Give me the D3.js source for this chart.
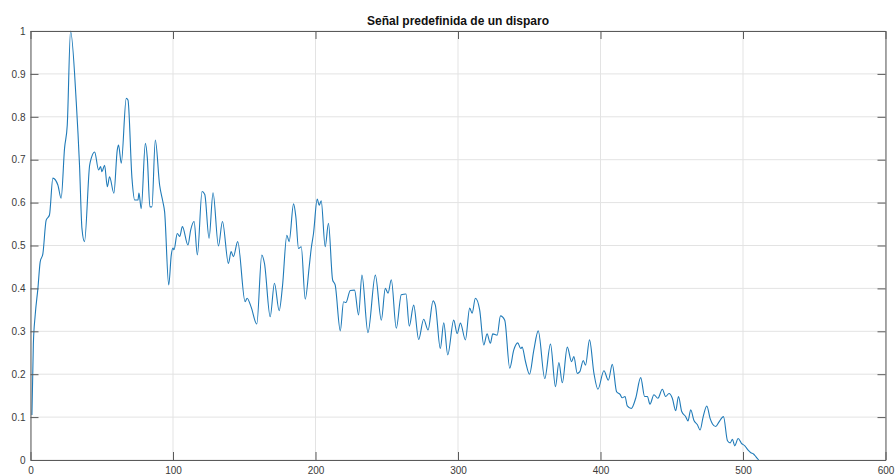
<!DOCTYPE html>
<html>
<head>
<meta charset="utf-8">
<script src="https://cdn.jsdelivr.net/npm/d3@7"></script>
<style>
  html, body { margin: 0; padding: 0; background: #fff; }
  svg { display: block; font-family: "Liberation Sans", Arial, Helvetica, sans-serif; }
</style>
</head>
<body>
<svg id="chart" width="896" height="476"></svg>
<script>
const title = "Señal predefinida de un disparo";
const xTicks = [0, 100, 200, 300, 400, 500, 600];
const xTickLabels = ["0", "100", "200", "300", "400", "500", "600"];
const yTicks = [0, 0.1, 0.2, 0.3, 0.4, 0.5, 0.6, 0.7, 0.8, 0.9, 1];
const yTickLabels = ["0", "0.1", "0.2", "0.3", "0.4", "0.5", "0.6", "0.7", "0.8", "0.9", "1"];

const sampleX = [
  1, 2, 3.3, 5.2, 6.8, 8.7, 11, 13.3, 15.7, 19.2, 21.5, 23.9, 25.8, 28.1, 32.1, 34.4, 36.1, 37.9,
  41.5, 42.6, 45, 47.8, 49.2, 50.1, 52, 53.9, 55.5, 58.5, 60.9, 61.8, 63.7, 67.2, 68.4, 71.2, 73.1,
  75.4, 76.1, 77.7, 80.6, 82, 83.8, 85.2, 87.6, 90.6, 92.9, 94.1, 97, 98.8, 100, 100.7, 103, 104.7,
  106.6, 110.5, 112.4, 114.8, 117.1, 120.4, 122.3, 125.3, 128.1, 131.9, 134.7, 138.9, 140.8, 142.4,
  145.4, 150.6, 152, 154.8, 158.8, 162.3, 164.2, 168.2, 171.2, 174.5, 176.8, 179.9, 181.5, 184.6,
  186.2, 188.1, 190, 192.8, 195.6, 197, 198.6, 201.2, 202.6, 204, 206.8, 209.1, 212, 213.8, 217.4,
  219.7, 221.3, 224.4, 227.4, 230.2, 232.6, 236.8, 242, 246.2, 249, 250.9, 253.2, 256.7, 260.2,
  263.5, 265.8, 268.9, 272.4, 275.9, 279, 282.5, 284.1, 287.6, 290, 292.8, 297, 299.4, 301.7, 305.2,
  308.2, 309.9, 312.2, 315.2, 318.1, 320.4, 322.7, 324.4, 327.5, 329.8, 332.8, 336.3, 339.1, 341.9,
  344, 345, 347.4, 350.2, 353.2, 356.3, 360.9, 364.9, 368.4, 370.8, 373.2, 376.7, 379.7, 381.3,
  383.7, 385.5, 387.9, 389.5, 392.3, 395.4, 398.2, 402.4, 405.5, 408.3, 411.3, 413.7, 415.3, 417.2,
  418.8, 421.6, 424.7, 428.2, 431, 432.9, 434.7, 437.5, 440.3, 443.4, 445.7, 448.1, 450.4, 452.8,
  454.7, 457, 459.8, 461.4, 463.3, 465.6, 468, 469.9, 472, 474.6, 476.9, 478.6, 480.9, 483.2, 486.3,
  489.1, 491, 492.6, 494.2, 496.6, 498.9, 501.3, 503.6, 505.5, 507.4, 509, 511
];
const sampleY = [
  0.105, 0.27, 0.338, 0.40, 0.462, 0.481, 0.559, 0.571, 0.657, 0.641, 0.61, 0.727, 0.781, 1.0, 0.835, 0.687, 0.54, 0.509,
  0.687, 0.703, 0.718, 0.676, 0.684, 0.672, 0.687, 0.637, 0.660, 0.622, 0.723, 0.734, 0.692, 0.843, 0.839, 0.657, 0.606,
  0.606, 0.622, 0.586, 0.738, 0.703, 0.590, 0.590, 0.746, 0.641, 0.602, 0.579, 0.408, 0.478, 0.494, 0.49, 0.528, 0.521,
  0.544, 0.501, 0.536, 0.556, 0.478, 0.626, 0.619, 0.517, 0.623, 0.499, 0.556, 0.458, 0.486, 0.474,
  0.509, 0.369, 0.377, 0.357, 0.317, 0.478, 0.458, 0.334, 0.412, 0.348, 0.404, 0.524, 0.509, 0.597,
  0.567, 0.493, 0.497, 0.375, 0.451, 0.493, 0.528, 0.608, 0.594, 0.604, 0.497, 0.552, 0.42, 0.408, 0.301,
  0.369, 0.367, 0.395, 0.396, 0.338, 0.431, 0.297, 0.431, 0.326, 0.40, 0.389, 0.42, 0.307, 0.385,
  0.387, 0.312, 0.361, 0.281, 0.328, 0.303, 0.371, 0.361, 0.26, 0.32, 0.245, 0.326, 0.295, 0.319, 0.28,
  0.354, 0.342, 0.377, 0.35, 0.268, 0.294, 0.272, 0.294, 0.291, 0.336, 0.326, 0.214, 0.256, 0.273,
  0.26, 0.263, 0.229, 0.20, 0.256, 0.301, 0.19, 0.27, 0.171, 0.227, 0.18, 0.263, 0.229, 0.241,
  0.202, 0.206, 0.232, 0.221, 0.28, 0.202, 0.165, 0.208, 0.186, 0.223, 0.159, 0.153, 0.145, 0.148,
  0.126, 0.12, 0.144, 0.192, 0.148, 0.148, 0.13, 0.152, 0.144, 0.165, 0.148, 0.155, 0.144, 0.115,
  0.148, 0.113, 0.101, 0.091, 0.117, 0.092, 0.082, 0.07, 0.10, 0.126, 0.097, 0.084, 0.078, 0.089, 0.101,
  0.045, 0.04, 0.048, 0.033, 0.05, 0.039, 0.033, 0.023, 0.017, 0.014, 0.008, 0.0
];

const svg = d3.select("#chart");
const W = 896, H = 476;
const plot = { left: 30.5, right: 885.5, top: 31, bottom: 460 };

const x = d3.scaleLinear().domain([0, 600]).range([plot.left, plot.right]);
const y = d3.scaleLinear().domain([0, 1]).range([plot.bottom, plot.top]);

svg.append("rect").attr("width", W).attr("height", H).attr("fill", "#fff");

// grid
const grid = svg.append("g").attr("class", "grid");
grid.selectAll("line.gx").data(xTicks).join("line")
  .attr("x1", d => x(d)).attr("x2", d => x(d))
  .attr("y1", plot.top).attr("y2", plot.bottom)
  .attr("stroke", "#e3e3e3").attr("stroke-width", 1);
grid.selectAll("line.gy").data(yTicks).join("line")
  .attr("x1", plot.left).attr("x2", plot.right)
  .attr("y1", d => y(d)).attr("y2", d => y(d))
  .attr("stroke", "#e3e3e3").attr("stroke-width", 1);

// line
const pts = sampleX.map((v, i) => [v, sampleY[i]]);
const line = d3.line().x(d => x(d[0])).y(d => y(d[1])).curve(d3.curveMonotoneX);
svg.append("path").datum(pts)
  .attr("d", line)
  .attr("fill", "none")
  .attr("stroke", "#1f7ab8")
  .attr("stroke-width", 1.1)
  .attr("stroke-linejoin", "round");

// axes
const axisColor = "#5a5a5a";
const tickLen = 8;
function style(g) {
  g.selectAll(".domain").attr("stroke", axisColor);
  g.selectAll(".tick line").attr("stroke", axisColor);
  g.selectAll(".tick text").attr("fill", "#3a3a3a").style("font-size", "10px")
    .style("font-family", "'Liberation Sans', Arial, Helvetica, sans-serif");
}
svg.append("g").attr("transform", `translate(0,${plot.bottom})`)
  .call(d3.axisBottom(x).tickValues(xTicks).tickFormat((d, i) => xTickLabels[i])
    .tickSizeInner(-tickLen).tickSizeOuter(0).tickPadding(7))
  .call(style);
svg.append("g").attr("transform", `translate(0,${plot.top})`)
  .call(d3.axisTop(x).tickValues(xTicks).tickFormat("")
    .tickSizeInner(-tickLen).tickSizeOuter(0))
  .call(style);
svg.append("g").attr("transform", `translate(${plot.left},0)`)
  .call(d3.axisLeft(y).tickValues(yTicks).tickFormat((d, i) => yTickLabels[i])
    .tickSizeInner(-tickLen).tickSizeOuter(0).tickPadding(5))
  .call(style);
svg.append("g").attr("transform", `translate(${plot.right},0)`)
  .call(d3.axisRight(y).tickValues(yTicks).tickFormat("")
    .tickSizeInner(-tickLen).tickSizeOuter(0))
  .call(style);

// title
svg.append("text")
  .attr("x", (plot.left + plot.right) / 2)
  .attr("y", 25)
  .attr("text-anchor", "middle")
  .attr("font-size", "12px")
  .attr("font-weight", "bold")
  .attr("fill", "#111")
  .text(title);
</script>
</body>
</html>
